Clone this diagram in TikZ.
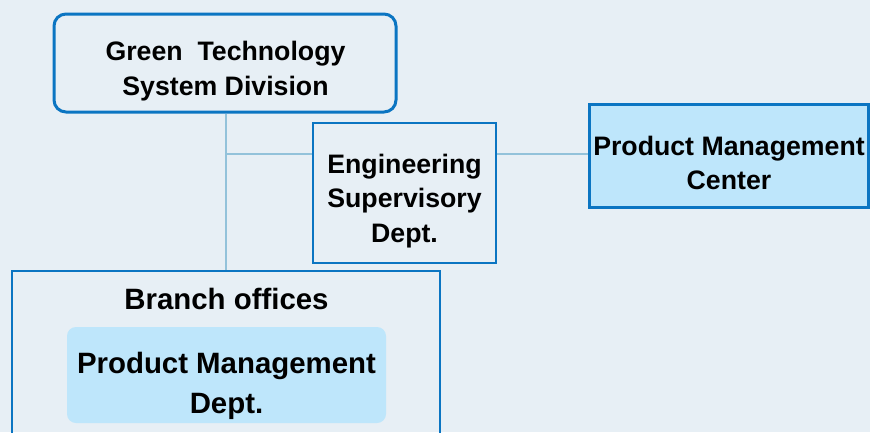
\documentclass[tikz,border=0pt]{standalone}
\usepackage{fontspec}
\setmainfont{Liberation Sans}
\definecolor{bgc}{HTML}{E7EFF5}
\definecolor{edgeblue}{HTML}{0B75C2}
\definecolor{linkc}{HTML}{93C2DA}
\definecolor{paleblue}{HTML}{BEE6FB}
\begin{document}
\begin{tikzpicture}[x=1pt,y=-1pt,
  lbl/.style={font=\fontsize{26.7}{34.5}\selectfont\bfseries, align=center, text=black, inner sep=0pt},
  bigl/.style={font=\fontsize{29.4}{40}\selectfont\bfseries, align=center, text=black, inner sep=0pt},
  box/.style={draw=edgeblue, line width=2.5pt},
  link/.style={draw=linkc, line width=2.5pt}]
  % canvas
  \fill[bgc] (0,0) rectangle (870,432);
  \useasboundingbox (0,0) rectangle (870,432);

  % boxes
  \node[box, line width=3pt, rounded corners=12pt, minimum width=342pt, minimum height=98pt]
    (top) at (225,63) {};
  \node[box, minimum width=183pt, minimum height=140pt]
    (eng) at (404.5,193) {};
  \node[box, line width=3pt, fill=paleblue, minimum width=279pt, minimum height=103pt]
    (pmc) at (728.5,155.5) {};
  \node[box, minimum width=428pt, minimum height=175pt]
    (branch) at (226,358.5) {};
  \node[fill=paleblue, rounded corners=9pt, minimum width=319pt, minimum height=96pt]
    (pmd) at (226.5,375) {};

  % box texts
  \node[lbl] (toptext) at (225.5,71) {Green\ \ Technology\\System Division};
  \node[lbl] (engtext) at (404.5,201) {Engineering\\Supervisory\\Dept.};
  \node[lbl] (pmctext) at (729,163) {Product Management\\Center};
  \node[bigl] (branchtext) at (226.5,299) {Branch offices};
  \node[bigl] (pmdtext) at (226.5,386) {Product Management\\Dept.};

  % connectors
  \coordinate (j) at (226,154);
  \draw[link] (top.south -| j) -- (branch.north -| j);
  \draw[link] (j) -- (j -| eng.west);
  \draw[link] (j -| eng.east) -- (j -| pmc.west);
\end{tikzpicture}
\end{document}
